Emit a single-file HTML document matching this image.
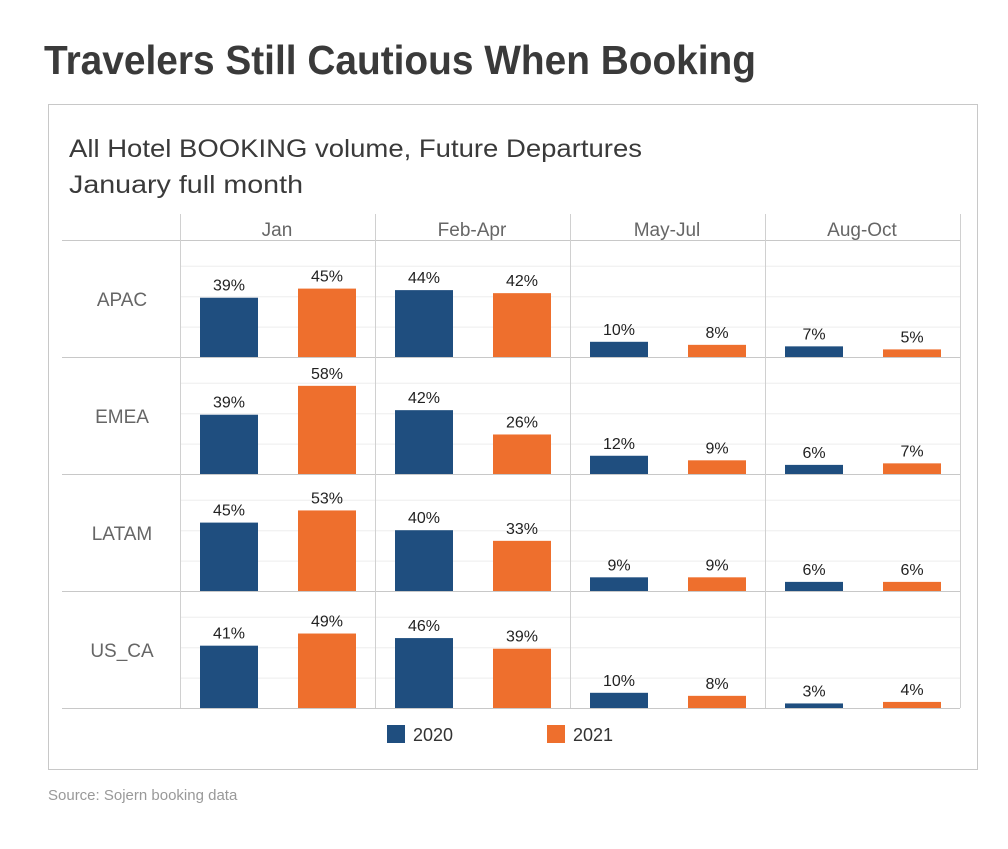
<!DOCTYPE html>
<html><head><meta charset="utf-8"><style>
body{margin:0;background:#fff;width:1008px;height:844px;overflow:hidden;font-family:"Liberation Sans",sans-serif}
</style></head><body>
<svg width="1008" height="844" id="svg" xmlns="http://www.w3.org/2000/svg">
<text x="44" y="74" font-size="41" font-weight="bold" fill="#3a3a3a" textLength="712" lengthAdjust="spacingAndGlyphs">Travelers Still Cautious When Booking</text>
<rect x="48.5" y="104.5" width="929" height="665" fill="none" stroke="#c8c8c8"/>
<text x="69" y="157" font-size="25" fill="#3a3a3a" textLength="573" lengthAdjust="spacingAndGlyphs">All Hotel BOOKING volume, Future Departures</text>
<text x="69" y="193" font-size="25" fill="#3a3a3a" textLength="234" lengthAdjust="spacingAndGlyphs">January full month</text>
<g id="grid"></g><g id="marks"></g>
<rect x="387" y="725" width="18" height="18" fill="#1f4e7f"/>
<text x="413" y="741" font-size="18" fill="#333">2020</text>
<rect x="547" y="725" width="18" height="18" fill="#ee6f2d"/>
<text x="573" y="741" font-size="18" fill="#333">2021</text>
<text x="48" y="800" font-size="15" fill="#999">Source: Sojern booking data</text>
</svg>
<script>
const periods=["Jan","Feb-Apr","May-Jul","Aug-Oct"];
const regions=["APAC","EMEA","LATAM","US_CA"];
const v2020=[[39,44,10,7],[39,42,12,6],[45,40,9,6],[41,46,10,3]];
const v2021=[[45,42,8,5],[58,26,9,7],[53,33,9,6],[49,39,8,4]];
const gridTicks=[20,40,60];
const NS="http://www.w3.org/2000/svg";
const g=document.getElementById('grid'),m=document.getElementById('marks');
function el(t,a,p){const e=document.createElementNS(NS,t);for(const k in a)e.setAttribute(k,a[k]);p.appendChild(e);return e;}
const colX=i=>180+i*195, rowBase=r=>357+r*117, yS=v=>v*1.52;
regions.forEach((r,ri)=>{
  gridTicks.forEach(t=>{const l=el('line',{x1:180,x2:960,y1:rowBase(ri)-yS(t)+0.5,y2:rowBase(ri)-yS(t)+0.5,stroke:'#eeeeee'},g);
  
  });
  const b=el('line',{x1:62,x2:960,y1:rowBase(ri)+0.5,y2:rowBase(ri)+0.5,stroke:'#c8c8c8'},g);
  
  
  const tx=el('text',{x:122,y:rowBase(ri)-51,'font-size':19,fill:'#666','text-anchor':'middle'},g);tx.textContent=r;
  
  
});
const hl=el('line',{x1:62,x2:960,y1:240.5,y2:240.5,stroke:'#c8c8c8'},g);


for(let i=0;i<=4;i++){const l=el('line',{x1:colX(i)+0.5,x2:colX(i)+0.5,y1:214,y2:708,stroke:'#d0d0d0'},g);

}
periods.forEach((p,i)=>{const t=el('text',{x:colX(i)+97,y:236,'font-size':19,fill:'#666','text-anchor':'middle'},g);t.textContent=p;

});
regions.forEach((r,ri)=>periods.forEach((p,pi)=>{
  [[v2020[ri][pi],20,'#1f4e7f'],[v2021[ri][pi],118,'#ee6f2d']].forEach(([v,off,c])=>{
    const x=colX(pi)+off,h=yS(v),base=rowBase(ri);
    const b=el('rect',{x:x,y:base-h,width:58,height:h,fill:c},m);
    
    
    const t=el('text',{x:x+29,y:base-h-7,'font-size':16,fill:'#222','text-anchor':'middle'},m);t.textContent=v+'%';
    
    
  });
}));
</script>
</body></html>
